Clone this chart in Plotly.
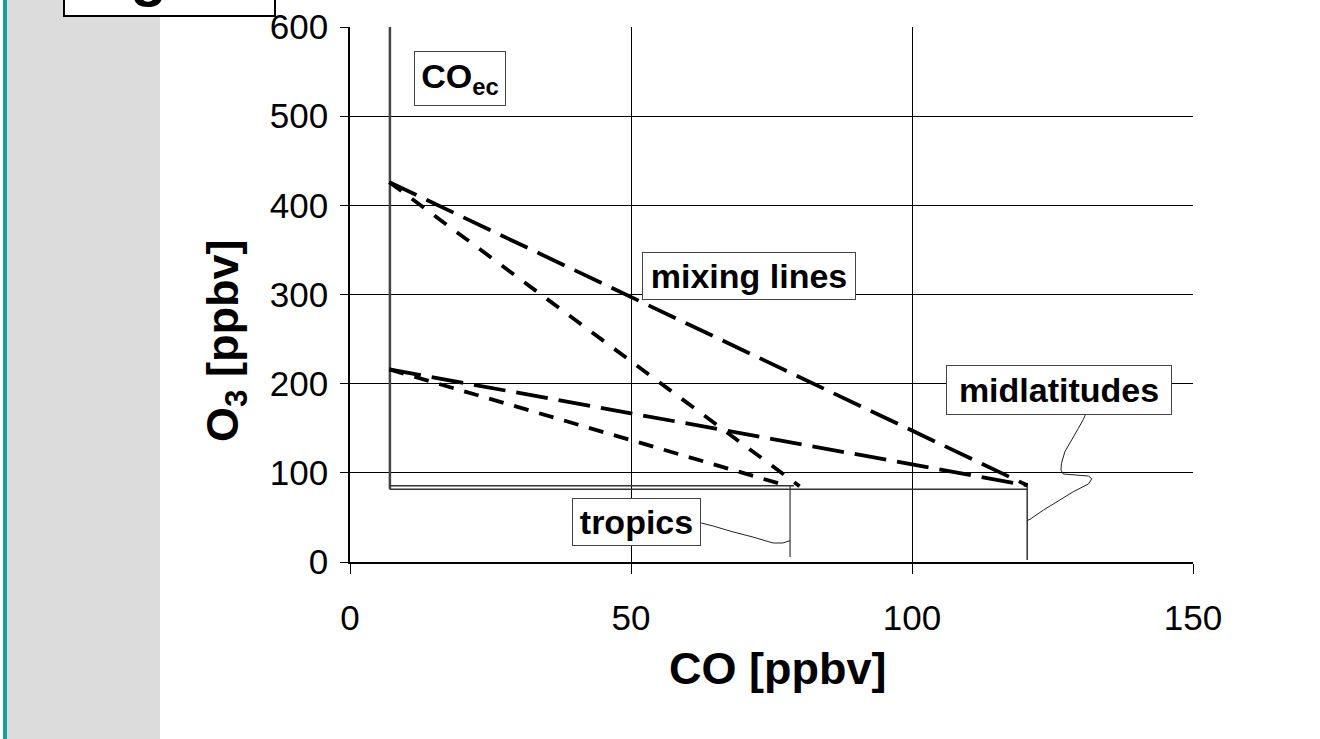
import plotly.graph_objects as go

# ---------------- data ----------------
x_ticks = [0, 50, 100, 150]
y_ticks = [0, 100, 200, 300, 400, 500, 600]

# vertical line marking CO_ec and the background "box" lines
coec_co = [7.1, 7.1]
coec_o3 = [600, 81.5]
base_lo_co = [7.1, 120.5]
base_lo_o3 = [81.5, 81.5]
base_hi_co = [7.1, 79.0]
base_hi_o3 = [85.5, 85.5]
trop_vert_co = [78.3, 78.3]
trop_vert_o3 = [85.5, 5.6]
mid_vert_co = [120.5, 120.5]
mid_vert_o3 = [88.6, 2.2]

# mixing lines
mix_hi_mid_co = [7.0, 120.5]
mix_hi_mid_o3 = [426, 86]
mix_hi_trop_co = [7.0, 80.0]
mix_hi_trop_o3 = [426, 85]
mix_lo_mid_co = [7.0, 120.5]
mix_lo_mid_o3 = [216, 86]
mix_lo_trop_co = [7.0, 78.0]
mix_lo_trop_o3 = [216, 85]

# profiles
trop_prof_co = [58.0, 62.5, 64.6, 68.0, 71.7, 73.5, 75.3, 77.0, 77.9, 78.3]
trop_prof_o3 = [46.0, 43.7, 40.4, 34.0, 28.0, 24.5, 21.3, 21.3, 23.6, 24.0]
mid_prof_co = [131.5, 130.5, 129.6, 128.1, 127.2, 126.6, 126.5, 126.9, 129.3, 131.4,
               132.0, 131.4, 128.7, 125.7, 123.4, 121.0, 120.5]
mid_prof_o3 = [175.0, 160.0, 149.9, 133.1, 123.7, 110.7, 103.2, 98.7, 97.9, 96.4,
               93.4, 87.5, 78.8, 67.6, 58.3, 47.9, 46.5]

# labels: text, centre (CO, O3), box size in px
labels = ["CO<sub>ec</sub>", "mixing lines", "midlatitudes", "tropics"]
label_co = [19.6, 71.0, 126.2, 51.0]
label_o3 = [542.2, 320.7, 192.9, 44.9]
label_w = [90, 212, 224, 127]
label_h = [53, 46, 48, 46]

fig = go.Figure()

def line(xs, ys, width=1.0, color="black", dash="solid"):
    fig.add_trace(go.Scatter(x=xs, y=ys, mode="lines", showlegend=False,
                             hoverinfo="skip",
                             line=dict(color=color, width=width, dash=dash)))

line(coec_co, coec_o3, 2.5, "#444444")
line(base_lo_co, base_lo_o3, 1.5, "#333333")
line(base_hi_co, base_hi_o3, 1.5, "#333333")
line(trop_vert_co, trop_vert_o3, 1.2, "#333333")
line(mid_vert_co, mid_vert_o3, 1.5, "#333333")
line(trop_prof_co, trop_prof_o3, 1.0, "#222222")
line(mid_prof_co, mid_prof_o3, 1.0, "#222222")

line(mix_hi_mid_co, mix_hi_mid_o3, 3.8, "black", "30px,11px")
line(mix_hi_trop_co, mix_hi_trop_o3, 3.8, "black", "15px,13px")
line(mix_lo_mid_co, mix_lo_mid_o3, 3.8, "black", "32px,11px")
line(mix_lo_trop_co, mix_lo_trop_o3, 3.8, "black", "15px,11px")

L, R, T, B = 350, 127, 27, 177
W, H = 1320, 739
pw, ph = W - L - R, H - T - B

def px(xp):
    return (xp - L) / pw

def py(yp):
    return (H - B - yp) / ph

for t, cx, cy, w, h in zip(labels, label_co, label_o3, label_w, label_h):
    fig.add_annotation(x=cx, y=cy, xref="x", yref="y", text=t, showarrow=False,
                       xanchor="center", yanchor="middle",
                       font=dict(family="Liberation Sans, Arial", size=34,
                                 color="black", weight="bold"),
                       bgcolor="white", bordercolor="#444444", borderwidth=1,
                       borderpad=0, width=w, height=h, align="center",
                       valign="middle")

# axis titles
fig.add_annotation(x=px(777), y=py(668), xref="paper", yref="paper",
                   xanchor="center", yanchor="middle",
                   text="CO [ppbv]", showarrow=False,
                   font=dict(family="Liberation Sans, Arial", size=45,
                             color="black", weight="bold"))
fig.add_annotation(x=px(226), y=py(341), xref="paper", yref="paper",
                   xanchor="center", yanchor="middle",
                   text="O<sub>3</sub> [ppbv]", showarrow=False, textangle=-90,
                   font=dict(family="Liberation Sans, Arial", size=45,
                             color="black", weight="bold"))

# "Fig. 3" box cut off at the top
fig.add_shape(type="rect", xref="paper", yref="paper",
              x0=px(64), x1=px(275), y0=py(16), y1=py(-10),
              line=dict(color="black", width=2), fillcolor="white", layer="above")
fig.add_annotation(x=px(155), y=py(-25), xref="paper", yref="paper",
                   xanchor="center", yanchor="middle",
                   text="Fig. 3", showarrow=False,
                   font=dict(family="Liberation Sans, Arial", size=60,
                             color="black", weight="bold"))

# slide background: teal rule and grey panel
fig.add_shape(type="rect", xref="paper", yref="paper",
              x0=px(7), x1=px(160), y0=py(H + 10), y1=py(-10),
              line=dict(width=0), fillcolor="#dcdcdc", layer="below")
fig.add_shape(type="rect", xref="paper", yref="paper",
              x0=px(3), x1=px(7), y0=py(H + 10), y1=py(-10),
              line=dict(width=0), fillcolor="#15a09c", layer="below")

fig.update_layout(
    width=W, height=H,
    margin=dict(l=L, r=R, t=T, b=B, pad=0, autoexpand=False),
    paper_bgcolor="white", plot_bgcolor="white",
    showlegend=False,
    font=dict(family="Liberation Sans, Arial", color="black"),
    xaxis=dict(range=[0, 150], tickvals=x_ticks, ticktext=[str(v) for v in x_ticks],
               showgrid=True, gridcolor="black", gridwidth=1,
               showline=True, linecolor="black", linewidth=1.5,
               ticks="outside", ticklen=10, tickcolor="black", tickwidth=1,
               tickfont=dict(size=35), ticklabelstandoff=14, zeroline=False,
               fixedrange=True, automargin=False),
    yaxis=dict(range=[0, 600], tickvals=y_ticks, ticktext=[str(v) for v in y_ticks],
               showgrid=True, gridcolor="black", gridwidth=1,
               showline=True, linecolor="black", linewidth=1.5,
               ticks="outside", ticklen=8, tickcolor="black", tickwidth=1,
               tickfont=dict(size=35), ticklabelstandoff=5, zeroline=False,
               fixedrange=True, automargin=False),
)

fig.write_html("out.html")
